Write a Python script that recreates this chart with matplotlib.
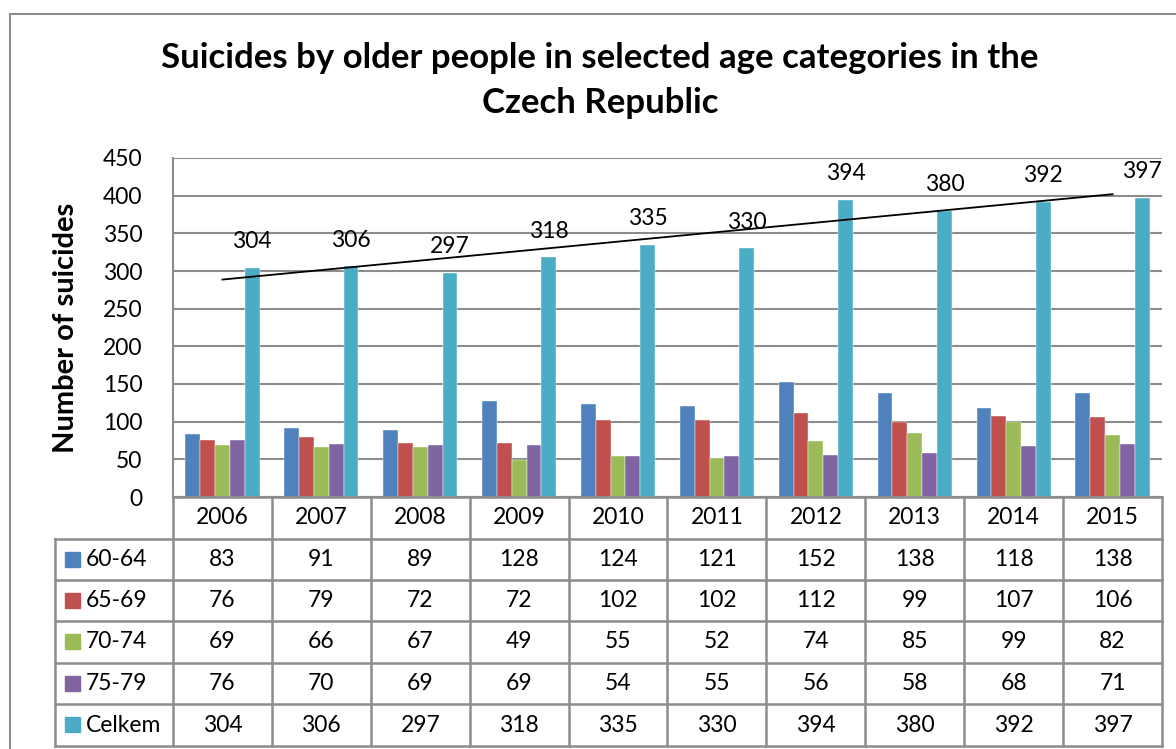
import matplotlib.pyplot as plt
from matplotlib.lines import Line2D
from matplotlib.patches import Rectangle
import numpy as np

plt.rcParams['font.family'] = ['Lato', 'DejaVu Sans']

years = ["2006", "2007", "2008", "2009", "2010", "2011", "2012", "2013", "2014", "2015"]
series = ["60-64", "65-69", "70-74", "75-79", "Celkem"]
v6064 = [83, 91, 89, 128, 124, 121, 152, 138, 118, 138]
v6569 = [76, 79, 72, 72, 102, 102, 112, 99, 107, 106]
v7074 = [69, 66, 67, 49, 55, 52, 74, 85, 99, 82]
v7579 = [76, 70, 69, 69, 54, 55, 56, 58, 68, 71]
celkem = [304, 306, 297, 318, 335, 330, 394, 380, 392, 397]
values = [v6064, v6569, v7074, v7579, celkem]
colors = ["#4F81BD", "#C0504D", "#9BBB59", "#8064A2", "#4BACC6"]

W, H = 1176, 749
fig = plt.figure(figsize=(W / 100, H / 100), dpi=100)

def fx(x):
    return x / W

def fy(y):
    return 1 - y / H

grid_c = "#8c8c8c"
fs = 16.5

# outer frame
fig.add_artist(Rectangle((fx(10), fy(760)), fx(1200), 746 / H, transform=fig.transFigure,
                         fill=False, edgecolor="#8c8c8c", lw=1.5))

# plot area
L, R, T, B = 173, 1162, 158, 497
ax = fig.add_axes([fx(L), fy(B), fx(R - L), (B - T) / H])
n = len(years)
x = np.arange(n)
w = 0.15
for i, (vals, c) in enumerate(zip(values, colors)):
    ax.bar(x + (i - 2) * w, vals, w, color=c, edgecolor="white", linewidth=0.3, zorder=3)

for xi, v in zip(x + 2 * w, celkem):
    ax.annotate(str(v), (xi, v), xytext=(0, 19), textcoords="offset points",
                ha="center", va="center", fontsize=fs, annotation_clip=False)

# linear trend line on Celkem
k, q = np.polyfit(x, celkem, 1)
ax.plot([x[0], x[-1]], [k * x[0] + q, k * x[-1] + q], color="black", lw=1.3, zorder=4)

ax.set_xlim(-0.5, n - 0.5)
ax.set_ylim(0, 450)
ax.set_yticks(range(0, 451, 50))
ax.set_xticks([])
ax.grid(axis="y", color=grid_c, lw=1.5, zorder=0)
ax.tick_params(axis="y", length=0, labelsize=fs, pad=22)
for s in ["top", "right"]:
    ax.spines[s].set_visible(False)
for s in ["left", "bottom"]:
    ax.spines[s].set_color(grid_c)
    ax.spines[s].set_linewidth(1.5)

fig.text(fx(66), fy(328), "Number of suicides", rotation=90, ha="center", va="center",
         fontsize=21, fontweight="bold")

fig.text(fx(600), fy(58), "Suicides by older people in selected age categories in the",
         ha="center", va="center", fontsize=25, fontweight="bold")
fig.text(fx(600), fy(103), "Czech Republic", ha="center", va="center",
         fontsize=25, fontweight="bold")

# data table
rows = [497, 539, 580, 621, 663, 704, 746]
cw = (R - L) / n
cols = [L + i * cw for i in range(n + 1)]
TL = 55

def hline(x0, x1, y):
    fig.add_artist(Line2D([fx(x0), fx(x1)], [fy(y), fy(y)], transform=fig.transFigure,
                          color=grid_c, lw=1.8))

def vline(x, y0, y1):
    fig.add_artist(Line2D([fx(x), fx(x)], [fy(y0), fy(y1)], transform=fig.transFigure,
                          color=grid_c, lw=1.8))

hline(L, R, rows[0])
for y in rows[1:]:
    hline(TL, R, y)
for c in cols:
    vline(c, rows[0], rows[-1])
vline(TL, rows[1], rows[-1])

for j, yr in enumerate(years):
    fig.text(fx((cols[j] + cols[j + 1]) / 2), fy((rows[0] + rows[1]) / 2), yr,
             ha="center", va="center", fontsize=fs)

for i, (name, vals, c) in enumerate(zip(series, values, colors)):
    yc = (rows[i + 1] + rows[i + 2]) / 2
    fig.add_artist(Rectangle((fx(65), fy(yc + 7)), 15 / W, 15 / H, transform=fig.transFigure,
                             color=c))
    fig.text(fx(86), fy(yc), name, ha="left", va="center", fontsize=fs)
    for j, v in enumerate(vals):
        fig.text(fx((cols[j] + cols[j + 1]) / 2), fy(yc), str(v),
                 ha="center", va="center", fontsize=fs)

fig.savefig("out.png", dpi=100)
